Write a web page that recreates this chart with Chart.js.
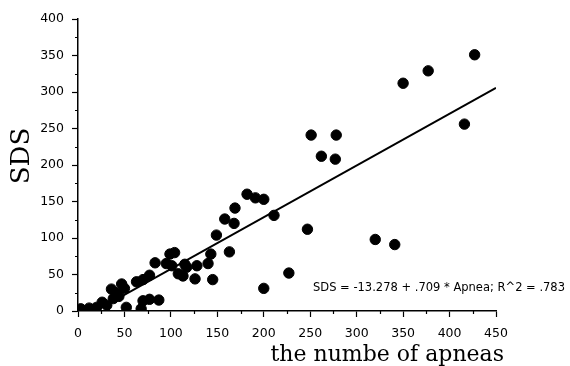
<!DOCTYPE html>
<html>
<head>
<meta charset="utf-8">
<script src="https://cdn.jsdelivr.net/npm/chart.js@4/dist/chart.umd.min.js"></script>
<style>
    html, body { margin: 0; padding: 0; background: #fff; }
    #wrap { width: 570px; height: 366px; position: relative; }
</style>
</head>
<body>
<div id="wrap"><canvas id="sds-chart"></canvas></div>
<script>
    // Apnea count (x) and SDS (y) for each subject
    var apneaCount = [3, 12, 20, 26, 31, 36, 38, 41, 44, 47, 50, 52, 63, 70, 77, 83,
        68, 70, 77, 87, 95, 99, 104, 101, 108, 113, 117, 115, 126, 128, 140, 143,
        145, 149, 158, 163, 168, 169, 182, 191, 200, 211, 200, 227, 247, 251, 262,
        277, 278, 320, 341, 350, 377, 416, 427];
    var sdsValue = [3, 4, 5, 12, 8, 30, 17, 25, 20, 37, 31, 5, 40, 43, 49, 66,
        3, 14, 16, 15, 65, 78, 80, 62, 51, 48, 60, 64, 44, 62, 65, 78,
        43, 104, 126, 81, 120, 141, 160, 155, 153, 131, 31, 52, 112, 241, 212,
        208, 241, 98, 91, 312, 329, 256, 351];

    // Fitted line, as printed on the chart
    var fitIntercept = -13.278;
    var fitSlope = 0.709;
    var fitRange = [20, 450];
    var fitLabel = 'SDS = -13.278 + .709 * Apnea; R^2 = .783';

    var xTitle = 'the numbe of apneas';
    var yTitle = 'SDS';

    var fitLine = fitRange.map(function(x) {
        return { x: x, y: fitIntercept + fitSlope * x };
    });
    var points = apneaCount.map(function(x, i) {
        return { x: x, y: sdsValue[i] };
    });

    /**
     * Minor ticks, axis titles and the equation text
     */
    var extrasPlugin = {
        id: 'extras',
        afterDraw: function(chart) {
            var ctx = chart.ctx;
            var xs = chart.scales.x;
            var ys = chart.scales.y;
            var area = chart.chartArea;
            var v;

            ctx.save();
            ctx.strokeStyle = '#000';
            ctx.lineWidth = 1.2;
            ctx.beginPath();
            for (v = 25; v < 450; v += 50) {
                var px = Math.round(xs.getPixelForValue(v)) + 0.5;
                ctx.moveTo(px, area.bottom);
                ctx.lineTo(px, area.bottom + 3);
            }
            for (v = 25; v < 400; v += 50) {
                var py = Math.round(ys.getPixelForValue(v)) + 0.5;
                ctx.moveTo(area.left, py);
                ctx.lineTo(area.left - 3, py);
            }
            ctx.stroke();

            ctx.fillStyle = '#000';
            ctx.font = '11.5px "DejaVu Sans"';
            ctx.textAlign = 'left';
            ctx.textBaseline = 'alphabetic';
            ctx.fillText(fitLabel, 313, 291);

            ctx.font = '22px "DejaVu Serif"';
            ctx.textAlign = 'right';
            ctx.fillText(xTitle, 504, 361);

            ctx.translate(29, 156);
            ctx.rotate(-Math.PI / 2);
            ctx.textAlign = 'center';
            ctx.font = '26px "DejaVu Serif"';
            ctx.fillText(yTitle, 0, 0);
            ctx.restore();
        }
    };

    var tickFont = { family: 'DejaVu Sans', size: 12.5 };

    new Chart(document.getElementById('sds-chart'), {
        type: 'scatter',
        data: {
            datasets: [{
                data: points,
                backgroundColor: '#000',
                borderColor: '#000',
                pointRadius: 5.2,
                pointHoverRadius: 5.2
            }, {
                type: 'line',
                data: fitLine,
                borderColor: '#000',
                borderWidth: 2,
                pointRadius: 0,
                fill: false
            }]
        },
        options: {
            responsive: true,
            maintainAspectRatio: false,
            animation: false,
            layout: {
                padding: { left: 0, right: 74, top: 19, bottom: 0 }
            },
            plugins: {
                legend: { display: false },
                tooltip: { enabled: false }
            },
            scales: {
                x: {
                    type: 'linear',
                    min: 0,
                    max: 450,
                    afterFit: function(scale) { scale.height = 55; },
                    ticks: {
                        stepSize: 50,
                        color: '#000',
                        font: tickFont,
                        padding: 9,
                        maxRotation: 0
                    },
                    grid: {
                        drawOnChartArea: false,
                        tickLength: 6,
                        tickColor: '#000',
                        tickWidth: 1.2
                    },
                    border: { color: '#000', width: 1.5 }
                },
                y: {
                    min: 0,
                    max: 400,
                    afterFit: function(scale) { scale.width = 78; },
                    ticks: {
                        stepSize: 50,
                        color: '#000',
                        font: tickFont,
                        padding: 8
                    },
                    grid: {
                        drawOnChartArea: false,
                        tickLength: 6,
                        tickColor: '#000',
                        tickWidth: 1.2
                    },
                    border: { color: '#000', width: 1.5 }
                }
            }
        },
        plugins: [extrasPlugin]
    });
</script>
</body>
</html>
